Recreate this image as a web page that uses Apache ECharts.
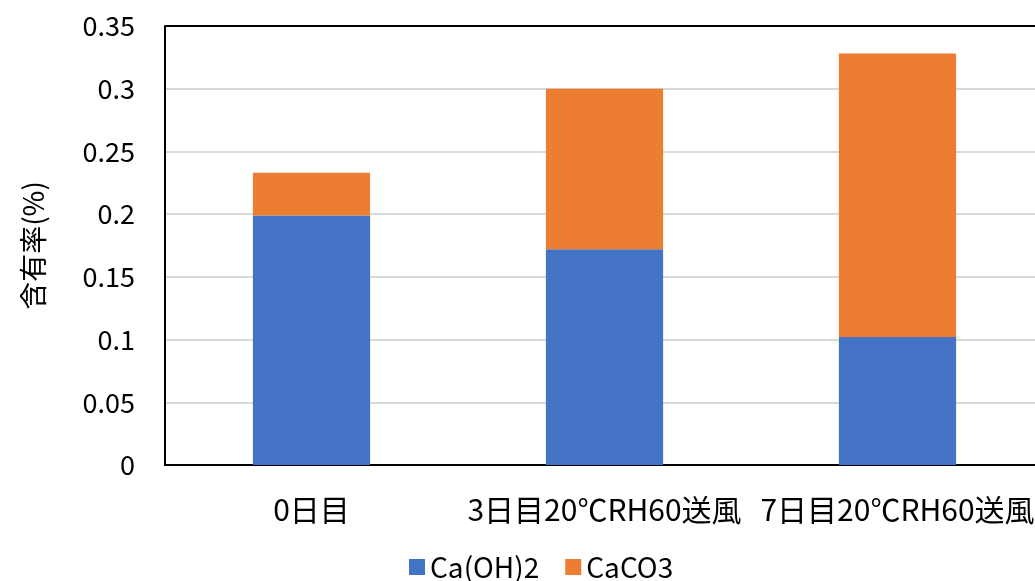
<!DOCTYPE html>
<html><head><meta charset="utf-8">
<script src="https://cdn.jsdelivr.net/npm/echarts@6/dist/echarts.min.js"></script>
<style>html,body{margin:0;padding:0;background:#fff;overflow:hidden}#c{width:1044px;height:581px}</style>
</head><body><div id="c"></div>
<script>
const categories = ['0日目', '3日目20℃RH60送風', '7日目20℃RH60送風'];
const caOH2 = [0.199, 0.172, 0.102];
const caCO3 = [0.034, 0.128, 0.226];
const yTicks = [0, 0.05, 0.1, 0.15, 0.2, 0.25, 0.3, 0.35];
const font = '"Noto Sans CJK JP", "Noto Sans", sans-serif';
const chart = echarts.init(document.getElementById('c'));
chart.setOption({
  animation: false,
  grid: { left: 165, top: 26, bottom: 116, right: 0, containLabel: false },
  legend: {
    top: 548, left: 404, itemWidth: 16, itemHeight: 16, itemGap: 26,
    icon: 'rect',
    textStyle: { fontSize: 28, fontFamily: font, color: '#000' },
    data: ['Ca(OH)2', 'CaCO3']
  },
  xAxis: {
    type: 'category', data: categories,
    axisLine: { lineStyle: { color: '#000', width: 2 } },
    axisTick: { show: false },
    axisLabel: { fontSize: 30, fontFamily: font, color: '#000', margin: 30, interval: 0 }
  },
  yAxis: {
    type: 'value', min: 0, max: 0.35, interval: 0.05,
    name: '含有率(%)', nameLocation: 'middle', nameGap: 118, nameRotate: 90,
    nameTextStyle: { fontSize: 28, fontFamily: font, color: '#000' },
    axisLine: { show: true, lineStyle: { color: '#000', width: 2 } },
    axisTick: { show: false },
    splitLine: { lineStyle: { color: ['#d9d9d9', '#d9d9d9', '#d9d9d9', '#d9d9d9', '#d9d9d9', '#d9d9d9', '#d9d9d9', '#000'], width: 2 } },
    axisLabel: { fontSize: 27, fontFamily: font, color: '#000', margin: 30,
      formatter: v => { const t = yTicks.find(x => Math.abs(x - v) < 1e-9); return String(t !== undefined ? t : v); } }
  },
  series: [
    { name: 'Ca(OH)2', type: 'bar', stack: 'a', data: caOH2, barWidth: '40%', itemStyle: { color: '#4472c4' } },
    { name: 'CaCO3', type: 'bar', stack: 'a', data: caCO3, barWidth: '40%', itemStyle: { color: '#ed7d31' } }
  ]
});
</script></body></html>
